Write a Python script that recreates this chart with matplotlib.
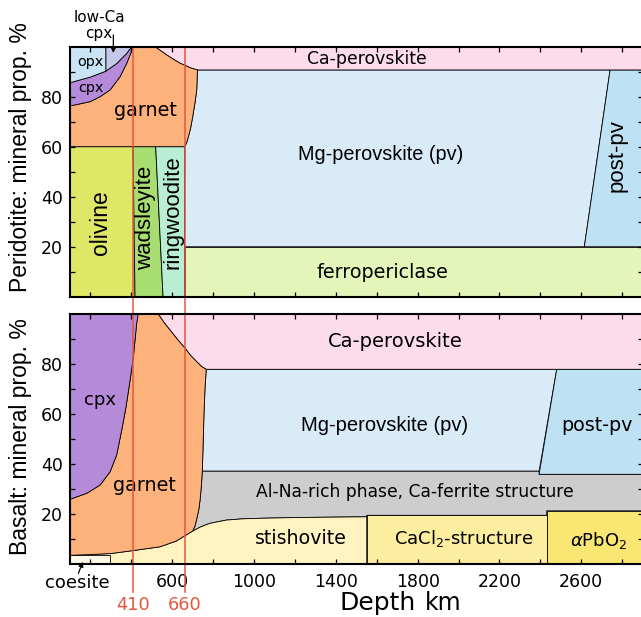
import numpy as np
import matplotlib
matplotlib.use("Agg")
import matplotlib.pyplot as plt
from matplotlib.transforms import blended_transform_factory

plt.rcParams['font.family'] = ['DejaVu Sans']
ARIAL = ['Liberation Sans', 'DejaVu Sans']

# ---------------------------------------------------------------- axes
DEPTH_MIN, DEPTH_MAX = 100, 2900
DISCONTINUITIES = [410, 660]
XTICK_MAJOR = [600, 1000, 1400, 1800, 2200, 2600]
XTICK_MINOR = [200, 400, 800, 1200, 1600, 2000, 2400, 2800]
YTICK_MAJOR = [20, 40, 60, 80]
YTICK_MINOR = [10, 30, 50, 70, 90]

# ---------------------------------------------------------------- peridotite
# (depth km, cumulative mineral %) boundaries
PER_OLIVINE_TOP = 60
PER_FP_TOP = 20
PER_CAPV_BASE = 90.7
PER_OL_WAD_DEPTH = [418, 408]          # at 0 % and 60 %
PER_WAD_RW_DEPTH = [555, 519]
PER_RW_PV_DEPTH = [660, 662]
PER_GT_TOP_DEPTH = [100, 198, 247, 296, 345, 377, 397, 407]
PER_GT_TOP_PCT = [76.3, 78.0, 80.0, 82.7, 88.0, 93.3, 97.3, 100]
PER_CPX_TOP_DEPTH = [100, 198, 275, 329, 377, 402]
PER_CPX_TOP_PCT = [85.6, 87.8, 90.2, 93.3, 97.3, 100]
PER_OPX_END = 275
PER_CAPV_DEPTH = [516, 545, 573, 605, 638, 663, 690, 723]
PER_CAPV_PCT = [100, 98.3, 96.7, 95.0, 93.4, 92.5, 91.5, 90.7]
PER_GT_PV_DEPTH = [662, 672, 679, 690, 700, 712, 720, 723]
PER_GT_PV_PCT = [60, 62, 64, 67.5, 72, 78, 83, 90.7]
PER_PPV_DEPTH = [2615, 2741]           # at 20 % and 90.7 %

# ---------------------------------------------------------------- basalt
BAS_COESITE_END = 296
BAS_COESITE_TOP = 3.6
BAS_GT_BASE_DEPTH = [100, 200, 300, 410, 540, 620, 663, 700]
BAS_GT_BASE_PCT = [3.6, 3.9, 4.3, 5.5, 7.0, 9.3, 11.5, 13.3]
BAS_GT_RIGHT_DEPTH = [700, 712, 722, 730, 736, 742, 747, 751, 755, 760, 766]
BAS_GT_RIGHT_PCT = [13.3, 15.5, 19.0, 22.0, 25.7, 31.0, 37.3, 48.0, 60.0, 70.0, 78.0]
BAS_CPX_DEPTH = [100, 182, 247, 296, 328, 353, 374, 394, 410, 426, 433]
BAS_CPX_PCT = [26, 28.4, 31.7, 37.0, 43.7, 53.7, 63.0, 73.7, 83.0, 96.4, 100]
BAS_CAPV_DEPTH = [532, 560, 589, 625, 663, 690, 720, 745, 766]
BAS_CAPV_PCT = [100, 96.7, 93.7, 90.0, 86.4, 83.5, 81.0, 79.0, 78.0]
BAS_CAPV_BASE = 78.0
BAS_STI_TOP_DEPTH = [700, 740, 785, 866, 948, 1029, 1200, 1551]
BAS_STI_TOP_PCT = [13.3, 15.0, 16.4, 17.7, 18.2, 18.4, 18.7, 19.0]
BAS_CACL2_START = 1551
BAS_CACL2_TOP = 19.6
BAS_APBO2_START = 2431
BAS_APBO2_TOP = 21.4
BAS_ALNA_TOP = 37.3
BAS_ALNA_TOP_PPV = 36.0
BAS_PPV_DEPTH = [2394, 2480]           # at base and at 78 %

COL = dict(
    opx='#c9e4f4', lowca='#c6c8ea', cpx='#b58ad8', garnet='#fdb17b',
    olivine='#dfe766', wadsleyite='#a8de71', ringwoodite='#b9eed4',
    capv='#fcdbea', mgpv='#daebf8', ppv='#bfe1f4', fp='#e3f5b9',
    alna='#cdcdcd', stish='#fef3c1', cacl2='#fdee9f', apbo2='#f9e673',
    coesite='#fdf8e8', red='#e4573f')


def region(ax, xs, ys, color, lw=0.6, ec='black'):
    ax.fill(xs, ys, facecolor=color, edgecolor=ec, linewidth=lw,
            joinstyle='round')


def style_axes(ax, labels_x):
    ax.set_xlim(DEPTH_MIN, DEPTH_MAX)
    ax.set_ylim(0, 100)
    ax.set_xticks(XTICK_MAJOR)
    ax.set_xticks(XTICK_MINOR, minor=True)
    ax.set_yticks(YTICK_MAJOR)
    ax.set_yticks(YTICK_MINOR, minor=True)
    ax.tick_params(which='both', direction='in', top=True, right=True,
                   length=3.3, width=0.9, labelsize=12.5)
    ax.tick_params(axis='x', pad=6)
    ax.tick_params(axis='y', pad=5)
    if not labels_x:
        ax.tick_params(axis='x', labelbottom=False)
    for s in ax.spines.values():
        s.set_linewidth(1.5)
        s.set_zorder(10)


fig = plt.figure(figsize=(6.41, 6.17), dpi=100)
L, W, H = 70 / 641, 572.6 / 641, 250 / 617
ax1 = fig.add_axes([L, 1 - 296.7 / 617, W, H])
ax2 = fig.add_axes([L, 1 - 564.3 / 617, W, H])

# ================================================================ peridotite
a = ax1
region(a, [DEPTH_MIN, PER_OL_WAD_DEPTH[0], PER_OL_WAD_DEPTH[1], DEPTH_MIN],
       [0, 0, PER_OLIVINE_TOP, PER_OLIVINE_TOP], COL['olivine'])
region(a, [PER_OL_WAD_DEPTH[0], PER_WAD_RW_DEPTH[0], PER_WAD_RW_DEPTH[1], PER_OL_WAD_DEPTH[1]],
       [0, 0, PER_OLIVINE_TOP, PER_OLIVINE_TOP], COL['wadsleyite'])
region(a, [PER_WAD_RW_DEPTH[0], PER_RW_PV_DEPTH[0], PER_RW_PV_DEPTH[1], PER_WAD_RW_DEPTH[1]],
       [0, 0, PER_OLIVINE_TOP, PER_OLIVINE_TOP], COL['ringwoodite'])
# ferropericlase
region(a, [PER_RW_PV_DEPTH[0], DEPTH_MAX, DEPTH_MAX, PER_RW_PV_DEPTH[0]],
       [0, 0, PER_FP_TOP, PER_FP_TOP], COL['fp'])
# Mg-perovskite
region(a, np.r_[PER_RW_PV_DEPTH[0], PER_GT_PV_DEPTH, PER_PPV_DEPTH[1], PER_PPV_DEPTH[0]],
       np.r_[PER_FP_TOP, PER_GT_PV_PCT, PER_CAPV_BASE, PER_FP_TOP], COL['mgpv'])
# post-perovskite
region(a, [PER_PPV_DEPTH[0], PER_PPV_DEPTH[1], DEPTH_MAX, DEPTH_MAX],
       [PER_FP_TOP, PER_CAPV_BASE, PER_CAPV_BASE, PER_FP_TOP], COL['ppv'])
# Ca-perovskite
region(a, np.r_[PER_CAPV_DEPTH, DEPTH_MAX, DEPTH_MAX],
       np.r_[PER_CAPV_PCT, PER_CAPV_BASE, 100], COL['capv'])
# garnet
region(a, np.r_[DEPTH_MIN, PER_GT_PV_DEPTH, PER_CAPV_DEPTH[::-1], PER_GT_TOP_DEPTH[::-1]],
       np.r_[PER_OLIVINE_TOP, PER_GT_PV_PCT, PER_CAPV_PCT[::-1], PER_GT_TOP_PCT[::-1]],
       COL['garnet'])
# clinopyroxene
region(a, np.r_[PER_GT_TOP_DEPTH, PER_CPX_TOP_DEPTH[::-1]],
       np.r_[PER_GT_TOP_PCT, PER_CPX_TOP_PCT[::-1]], COL['cpx'])
# low-Ca cpx and opx above the cpx band
i_opx = PER_CPX_TOP_DEPTH.index(PER_OPX_END)
region(a, np.r_[PER_CPX_TOP_DEPTH[i_opx:], PER_OPX_END],
       np.r_[PER_CPX_TOP_PCT[i_opx:], 100], COL['lowca'])
region(a, np.r_[PER_CPX_TOP_DEPTH[:i_opx + 1], PER_OPX_END, DEPTH_MIN],
       np.r_[PER_CPX_TOP_PCT[:i_opx + 1], 100, 100], COL['opx'])

style_axes(a, labels_x=False)

a.text(198, 94, 'opx', ha='center', va='center', fontsize=10.4)
a.text(204, 83.6, 'cpx', ha='center', va='center', fontsize=10.4)
a.text(467, 74.4, 'garnet', ha='center', va='center', fontsize=13.8)
a.text(247, 29.5, 'olivine', ha='center', va='center', rotation=90,
       fontsize=16.5, family=ARIAL)
a.text(467, 31.5, 'wadsleyite', ha='center', va='center', rotation=90,
       fontsize=16, family=ARIAL)
a.text(605, 34, 'ringwoodite', ha='center', va='center', rotation=90,
       fontsize=16, family=ARIAL)
a.text(1553, 95.2, 'Ca-perovskite', ha='center', va='center', fontsize=12.4)
a.text(1621, 56.7, 'Mg-perovskite (pv)', ha='center', va='center',
       fontsize=14.3, family=ARIAL)
a.text(2773, 56.3, 'post-pv', ha='center', va='center', rotation=90,
       fontsize=16, family=ARIAL)
a.text(1626, 9.5, 'ferropericlase', ha='center', va='center', fontsize=13.8)
a.text(242, 111.6, 'low-Ca', ha='center', va='center', fontsize=11)
a.text(242, 105.4, 'cpx', ha='center', va='center', fontsize=11)
a.annotate('', xy=(312, 97.5), xytext=(312, 104.7), annotation_clip=False,
           arrowprops=dict(arrowstyle='-|>', color='black', lw=0.9,
                           mutation_scale=7, shrinkA=0, shrinkB=0))
a.set_ylabel('Peridotite: mineral prop. %', fontsize=16.5, family=ARIAL)
a.yaxis.set_label_coords(-0.066, 0.56)

# ================================================================ basalt
b = ax2
region(b, [BAS_APBO2_START, DEPTH_MAX, DEPTH_MAX, BAS_APBO2_START],
       [0, 0, BAS_APBO2_TOP, BAS_APBO2_TOP], COL['apbo2'])
region(b, [BAS_CACL2_START, BAS_APBO2_START, BAS_APBO2_START, BAS_CACL2_START],
       [0, 0, BAS_CACL2_TOP, BAS_CACL2_TOP], COL['cacl2'])
# Al-Na-rich phase (Ca-ferrite structure)
region(b, np.r_[BAS_STI_TOP_DEPTH, BAS_CACL2_START, BAS_APBO2_START, BAS_APBO2_START,
                DEPTH_MAX, DEPTH_MAX, BAS_PPV_DEPTH[0], BAS_PPV_DEPTH[0],
                BAS_GT_RIGHT_DEPTH[6::-1]],
       np.r_[BAS_STI_TOP_PCT, BAS_CACL2_TOP, BAS_CACL2_TOP, BAS_APBO2_TOP,
             BAS_APBO2_TOP, BAS_ALNA_TOP_PPV, BAS_ALNA_TOP_PPV, BAS_ALNA_TOP,
             BAS_GT_RIGHT_PCT[6::-1]], COL['alna'])
# stishovite
region(b, np.r_[DEPTH_MIN, BAS_CACL2_START, BAS_STI_TOP_DEPTH[::-1], BAS_GT_BASE_DEPTH[::-1]],
       np.r_[0, 0, BAS_STI_TOP_PCT[::-1], BAS_GT_BASE_PCT[::-1]], COL['stish'])
region(b, [DEPTH_MIN, BAS_COESITE_END, BAS_COESITE_END, DEPTH_MIN],
       [0, 0, BAS_COESITE_TOP, BAS_COESITE_TOP], COL['coesite'])
# Mg-perovskite
region(b, np.r_[BAS_GT_RIGHT_DEPTH[6:], BAS_PPV_DEPTH[1], BAS_PPV_DEPTH[0]],
       np.r_[BAS_GT_RIGHT_PCT[6:], BAS_CAPV_BASE, BAS_ALNA_TOP], COL['mgpv'])
region(b, [BAS_PPV_DEPTH[0], BAS_PPV_DEPTH[1], DEPTH_MAX, DEPTH_MAX],
       [BAS_ALNA_TOP_PPV, BAS_CAPV_BASE, BAS_CAPV_BASE, BAS_ALNA_TOP_PPV], COL['ppv'])
# Ca-perovskite
region(b, np.r_[BAS_CAPV_DEPTH, DEPTH_MAX, DEPTH_MAX],
       np.r_[BAS_CAPV_PCT, BAS_CAPV_BASE, 100], COL['capv'])
# garnet
region(b, np.r_[BAS_GT_BASE_DEPTH, BAS_GT_RIGHT_DEPTH[1:], BAS_CAPV_DEPTH[-2::-1],
                BAS_CPX_DEPTH[::-1]],
       np.r_[BAS_GT_BASE_PCT, BAS_GT_RIGHT_PCT[1:], BAS_CAPV_PCT[-2::-1],
             BAS_CPX_PCT[::-1]], COL['garnet'])
# clinopyroxene
region(b, np.r_[BAS_CPX_DEPTH, DEPTH_MIN], np.r_[BAS_CPX_PCT, 100], COL['cpx'])

style_axes(b, labels_x=True)

b.text(247, 65.7, 'cpx', ha='center', va='center', fontsize=13)
b.text(465, 31.7, 'garnet', ha='center', va='center', fontsize=13.8)
b.text(1690, 89.0, 'Ca-perovskite', ha='center', va='center', fontsize=14)
b.text(1640, 55.7, 'Mg-perovskite (pv)', ha='center', va='center',
       fontsize=14.5, family=ARIAL)
b.text(2677, 55.7, 'post-pv', ha='center', va='center', fontsize=13.8)
b.text(1787, 29.0, 'Al-Na-rich phase, Ca-ferrite structure', ha='center',
       va='center', fontsize=12.3)
b.text(1229, 10.4, 'stishovite', ha='center', va='center', fontsize=13.7)
b.text(2025, 10.4, r'CaCl$_2$-structure', ha='center', va='center', fontsize=13)
b.text(2687, 9.7, r'$\alpha$PbO$_2$', ha='center', va='center', fontsize=13)
b.text(137, -7.6, 'coesite', ha='center', va='center', fontsize=13)
b.annotate('', xy=(163, 1.0), xytext=(141, -3.6), annotation_clip=False,
           arrowprops=dict(arrowstyle='-|>', color='black', lw=0.9,
                           mutation_scale=7, shrinkA=0, shrinkB=0))
b.set_ylabel('Basalt: mineral prop. %', fontsize=16.5, family=ARIAL)
b.yaxis.set_label_coords(-0.066, 0.511)

# ================================================================ 410 / 660
for d in DISCONTINUITIES:
    ax1.axvline(d, ymin=-0.07, ymax=1, color=COL['red'], lw=1.1,
                clip_on=False, zorder=8)
    ax2.axvline(d, ymin=-0.11, ymax=1, color=COL['red'], lw=1.1,
                clip_on=False, zorder=8)
    tr = blended_transform_factory(ax2.transData, ax2.transAxes)
    ax2.text(d, -0.163, str(d), transform=tr, ha='center', va='center',
             color=COL['red'], fontsize=12.8)

fig.text(377.5 / 641, 1 - 610 / 617, 'Depth', ha='center', va='baseline',
         fontsize=18)
fig.text(443.3 / 641, 1 - 610 / 617, 'km', ha='center', va='baseline',
         fontsize=17)

fig.savefig('out.png', dpi=100)
